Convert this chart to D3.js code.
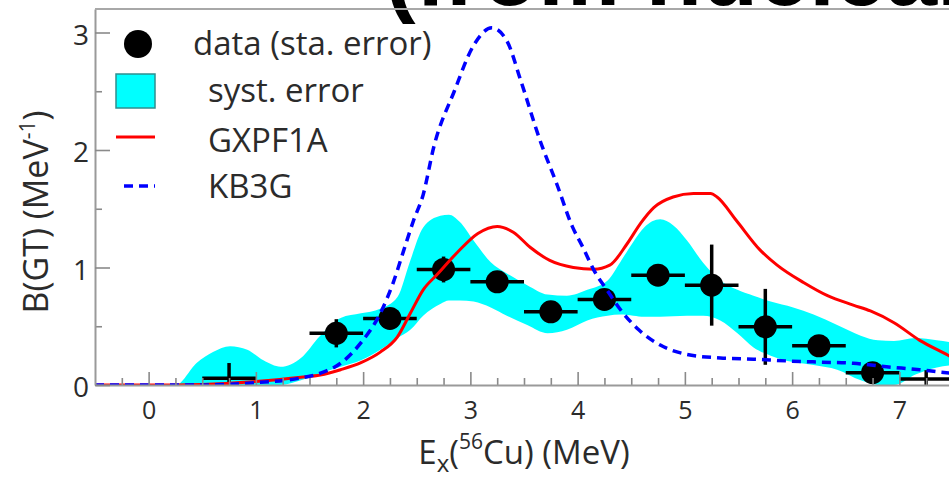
<!DOCTYPE html>
<html>
<head>
<meta charset="utf-8">
<script src="https://cdn.jsdelivr.net/npm/d3@7"></script>
<style>
  html, body { margin: 0; padding: 0; background: #fff; }
  svg { display: block; font-family: "Open Sans", "Noto Sans", sans-serif; }
</style>
</head>
<body>
<svg id="chart" width="949" height="480"></svg>
<script>
// Measured Gamow-Teller strength per 0.5 MeV bin (bin centres in MeV)
const binCenters = [0.75, 1.75, 2.25, 2.75, 3.25, 3.75, 4.25, 4.75, 5.25, 5.75, 6.25, 6.75, 7.25];
const bgtValues  = [0.057, 0.44, 0.567, 0.983, 0.878, 0.623, 0.728, 0.935, 0.85, 0.495, 0.334, 0.105, 0.051];
const statErrors = [0.13, 0.12, 0.08, 0.11, 0.08, 0.07, 0.08, 0.09, 0.345, 0.323, 0.08, 0.06, 0.075];
const markerShown = [false, true, true, true, true, true, true, true, true, true, true, true, false];
const binHalfWidth = 0.25;

// Systematic-error band (lower / upper envelope)
const bandX    = [-0.5, 0.25, 0.45, 0.6, 0.76, 0.92, 1.07, 1.23, 1.42, 1.6, 1.79, 1.98, 2.16, 2.32, 2.44, 2.56, 2.72, 2.8, 2.9, 3.03, 3.19, 3.34, 3.53, 3.72, 3.9, 4.09, 4.28, 4.4, 4.52, 4.62, 4.77, 4.89, 5.02, 5.17, 5.33, 5.49, 5.64, 5.8, 6.01, 6.2, 6.42, 6.64, 6.8, 6.95, 7.15, 7.35, 7.5];
const bandHigh = [0, 0, 0.19, 0.28, 0.33, 0.30, 0.21, 0.155, 0.23, 0.42, 0.57, 0.61, 0.65, 0.75, 1.06, 1.34, 1.44, 1.45, 1.39, 1.23, 1.045, 0.95, 0.85, 0.77, 0.76, 0.81, 0.89, 1.05, 1.22, 1.34, 1.41, 1.36, 1.23, 1.04, 0.89, 0.81, 0.76, 0.71, 0.66, 0.60, 0.51, 0.42, 0.38, 0.375, 0.40, 0.38, 0.36];
const bandLow  = [0, 0, 0, 0, 0, 0, 0, 0, 0.04, 0.10, 0.155, 0.21, 0.30, 0.40, 0.47, 0.59, 0.69, 0.72, 0.72, 0.71, 0.66, 0.59, 0.51, 0.44, 0.47, 0.55, 0.59, 0.60, 0.59, 0.58, 0.58, 0.585, 0.59, 0.59, 0.55, 0.44, 0.32, 0.25, 0.195, 0.17, 0.13, 0.04, 0, 0, 0.09, 0.15, 0.17];

// Shell-model calculation, GXPF1A interaction
const gxpf1aX = [-0.5, 0, 0.5, 1.0, 1.42, 1.6, 1.79, 1.98, 2.16, 2.32, 2.44, 2.56, 2.69, 2.88, 3.07, 3.25, 3.4, 3.56, 3.74, 3.96, 4.15, 4.3, 4.46, 4.59, 4.71, 4.89, 5.08, 5.24, 5.3, 5.48, 5.7, 5.86, 6.11, 6.33, 6.57, 6.73, 6.95, 7.19, 7.45, 7.5];
const gxpf1aY = [0, 0, 0.005, 0.03, 0.065, 0.085, 0.13, 0.19, 0.28, 0.41, 0.61, 0.81, 0.94, 1.13, 1.29, 1.35, 1.30, 1.17, 1.06, 1.0, 0.985, 1.02, 1.2, 1.38, 1.51, 1.6, 1.63, 1.63, 1.6, 1.4, 1.15, 1.02, 0.87, 0.76, 0.68, 0.63, 0.53, 0.38, 0.255, 0.23];

// Shell-model calculation, KB3G interaction
const kb3gX = [-0.5, 0.5, 1.0, 1.42, 1.6, 1.79, 1.98, 2.16, 2.28, 2.38, 2.47, 2.56, 2.66, 2.85, 3.03, 3.2, 3.34, 3.47, 3.65, 3.81, 3.95, 4.05, 4.15, 4.28, 4.4, 4.57, 4.77, 5.02, 5.33, 5.64, 5.95, 6.26, 6.57, 6.88, 7.19, 7.38, 7.5];
const kb3gY = [0, 0, 0.02, 0.06, 0.1, 0.185, 0.36, 0.61, 0.87, 1.15, 1.40, 1.62, 2.03, 2.5, 2.89, 3.04, 2.93, 2.59, 2.08, 1.70, 1.35, 1.17, 0.98, 0.8, 0.64, 0.47, 0.34, 0.26, 0.23, 0.22, 0.205, 0.195, 0.185, 0.155, 0.13, 0.11, 0.1];

// Axis ticks
const xMajorTicks = [0, 1, 2, 3, 4, 5, 6, 7];
const xMinorTicks = [-0.25, 0.25, 0.5, 0.75, 1.25, 1.5, 1.75, 2.25, 2.5, 2.75, 3.25, 3.5, 3.75, 4.25, 4.5, 4.75, 5.25, 5.5, 5.75, 6.25, 6.5, 6.75, 7.25];
const yMajorTicks = [0, 1, 2, 3];
const yMinorTicks = [0.5, 1.5, 2.5];

const legendLabels = ["data (sta. error)", "syst. error", "GXPF1A", "KB3G"];
const titleText = "(from nuclear";

const svg = d3.select("#chart");
const textColor = "#2b2b2b";
const axisColor = "#9a9a9a";

const x = d3.scaleLinear().domain([-0.5, 7.5]).range([95, 953]);
const y = d3.scaleLinear().domain([0, 3.2]).range([385, 9]);

// Large heading running off the top edge
svg.append("text")
  .attr("x", 385).attr("y", 5)
  .attr("font-family", "'Liberation Sans', Arial, sans-serif")
  .attr("font-weight", "bold")
  .attr("font-size", 92)
  .attr("fill", "#000")
  .text(titleText);

svg.append("defs").append("clipPath").attr("id", "plot-clip")
  .append("rect")
  .attr("x", x(-0.5)).attr("y", y(3.2))
  .attr("width", x(7.5) - x(-0.5)).attr("height", y(0) - y(3.2));

const plot = svg.append("g").attr("clip-path", "url(#plot-clip)");

// Systematic band
const band = d3.area()
  .x((d, i) => x(bandX[i]))
  .y0((d, i) => y(bandLow[i]))
  .y1((d, i) => y(bandHigh[i]))
  .curve(d3.curveMonotoneX);
plot.append("path")
  .datum(bandX)
  .attr("d", band)
  .attr("fill", "#00ffff");

// Data points with statistical errors
const pts = binCenters.map((c, i) => ({ c, v: bgtValues[i], e: statErrors[i], m: markerShown[i] }));
const ptG = plot.append("g").attr("stroke", "#000").attr("stroke-width", 3.5);
ptG.selectAll("line.h").data(pts).join("line").attr("class", "h")
  .attr("x1", d => x(d.c - binHalfWidth)).attr("x2", d => x(d.c + binHalfWidth))
  .attr("y1", d => y(d.v)).attr("y2", d => y(d.v));
ptG.selectAll("line.v").data(pts).join("line").attr("class", "v")
  .attr("x1", d => x(d.c)).attr("x2", d => x(d.c))
  .attr("y1", d => y(d.v - d.e)).attr("y2", d => y(d.v + d.e));
plot.append("g").selectAll("circle").data(pts.filter(d => d.m)).join("circle")
  .attr("cx", d => x(d.c)).attr("cy", d => y(d.v)).attr("r", 11.5)
  .attr("fill", "#000");

// Model curves
const redLine = d3.line().x((d, i) => x(gxpf1aX[i])).y((d, i) => y(gxpf1aY[i])).curve(d3.curveMonotoneX);
plot.append("path").datum(gxpf1aX).attr("d", redLine)
  .attr("fill", "none").attr("stroke", "#ff0000").attr("stroke-width", 3);

const blueLine = d3.line().x((d, i) => x(kb3gX[i])).y((d, i) => y(kb3gY[i])).curve(d3.curveMonotoneX);
plot.append("path").datum(kb3gX).attr("d", blueLine)
  .attr("fill", "none").attr("stroke", "#0000ff").attr("stroke-width", 3.5)
  .attr("stroke-dasharray", "9,6");

// Axes
function styleAxis(g) {
  g.selectAll(".tick line").attr("stroke", "#8a8a8a").attr("stroke-width", 1.6);
  g.selectAll(".domain").attr("stroke", axisColor).attr("stroke-width", 2);
  g.selectAll("text").attr("fill", textColor).attr("font-family", "'Open Sans', sans-serif");
}

const xMinor = svg.append("g").attr("transform", `translate(0,${y(0)})`)
  .call(d3.axisBottom(x).tickValues(xMinorTicks).tickSize(-7).tickFormat(""));
xMinor.select(".domain").remove();
styleAxis(xMinor);

const xMajor = svg.append("g").attr("transform", `translate(0,${y(0)})`)
  .call(d3.axisBottom(x).tickValues(xMajorTicks).tickSize(-13).tickSizeOuter(0).tickPadding(16).tickFormat(d3.format("d")));
xMajor.selectAll("text").attr("font-size", 25);
styleAxis(xMajor);

const yMinor = svg.append("g").attr("transform", `translate(${x(-0.5)},0)`)
  .call(d3.axisLeft(y).tickValues(yMinorTicks).tickSize(-7).tickFormat(""));
yMinor.select(".domain").remove();
styleAxis(yMinor);

const yMajor = svg.append("g").attr("transform", `translate(${x(-0.5)},0)`)
  .call(d3.axisLeft(y).tickValues(yMajorTicks).tickSize(-15).tickSizeOuter(0).tickPadding(6).tickFormat(d3.format("d")));
yMajor.selectAll("text").attr("font-size", 28).attr("dy", "0.42em");
styleAxis(yMajor);

// Top frame edge
svg.append("line")
  .attr("x1", x(-0.5)).attr("x2", x(7.5))
  .attr("y1", y(3.2)).attr("y2", y(3.2))
  .attr("stroke", "#a8a8a8").attr("stroke-width", 2);

// Axis titles
const xt = svg.append("text")
  .attr("x", 524).attr("y", 464)
  .attr("text-anchor", "middle")
  .attr("font-size", 33).attr("fill", textColor);
xt.append("tspan").text("E");
xt.append("tspan").attr("font-size", 24).attr("dy", 8).text("x");
xt.append("tspan").attr("dy", -8).text("(");
xt.append("tspan").attr("font-size", 21).attr("dy", -15).text("56");
xt.append("tspan").attr("dy", 15).text("Cu) (MeV)");

const yt = svg.append("text")
  .attr("transform", "translate(48,212) rotate(-90)")
  .attr("text-anchor", "middle")
  .attr("font-size", 34).attr("fill", textColor);
yt.append("tspan").text("B(GT) (MeV");
yt.append("tspan").attr("font-size", 21).attr("dy", -13).text("-1");
yt.append("tspan").attr("dy", 13).text(")");

// Legend
const lg = svg.append("g");
lg.append("circle").attr("cx", 138).attr("cy", 44).attr("r", 14).attr("fill", "#000");
lg.append("rect").attr("x", 116).attr("y", 74).attr("width", 39).attr("height", 34)
  .attr("fill", "#00ffff").attr("stroke", "#2f8f8f").attr("stroke-width", 1.5);
lg.append("line").attr("x1", 116).attr("x2", 155).attr("y1", 137).attr("y2", 137)
  .attr("stroke", "#ff0000").attr("stroke-width", 3);
lg.append("line").attr("x1", 124).attr("x2", 155).attr("y1", 186).attr("y2", 186)
  .attr("stroke", "#0000ff").attr("stroke-width", 3.5).attr("stroke-dasharray", "9,6");

const legendPos = [[193, 55], [208, 102], [208, 152], [208, 198]];
lg.selectAll("text.lbl").data(legendLabels).join("text").attr("class", "lbl")
  .attr("x", (d, i) => legendPos[i][0]).attr("y", (d, i) => legendPos[i][1])
  .attr("font-size", 33).attr("fill", textColor)
  .text(d => d);
</script>
</body>
</html>
